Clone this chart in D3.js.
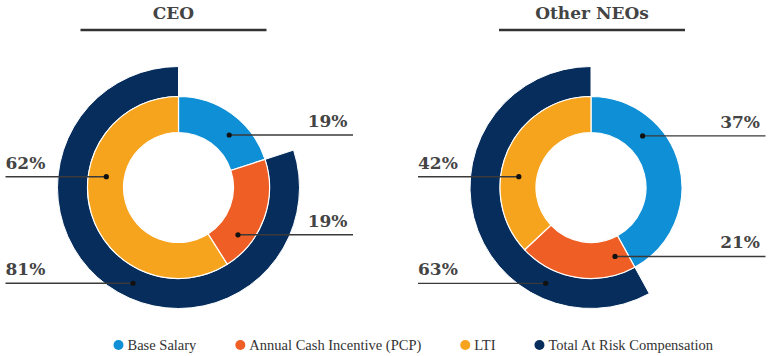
<!DOCTYPE html>
<html>
<head>
<meta charset="utf-8">
<script src="https://cdn.jsdelivr.net/npm/d3@7"></script>
<style>
  html, body { margin: 0; padding: 0; background: #ffffff; }
  svg { display: block; }
</style>
</head>
<body>
<div id="chart"></div>
<script>
// ---------------- data ----------------
const categories = ["Base Salary", "Annual Cash Incentive (PCP)", "LTI"];
const atRiskName = "Total At Risk Compensation";
const panelTitles = ["CEO", "Other NEOs"];
// shares of the pay mix as drawn in the rings (%)
const ceoMix = [20, 21, 59];
const ceoAtRisk = 80;
const neoMix = [42, 21, 37];
const neoAtRisk = 58;
// printed labels: base, incentive, LTI, at-risk
const ceoLabels = ["19%", "19%", "62%", "81%"];
const neoLabels = ["37%", "21%", "42%", "63%"];

// ---------------- style ----------------
const W = 770, H = 356;
const colors = ["#0f8fd5", "#ee5e25", "#f6a31e", "#062d5c"];
const serifBold = "'DejaVu Serif', Georgia, serif";
const serif = "'Liberation Serif', 'Times New Roman', serif";
const rHole = 55, rMid = 91, rOuter = 121;

const panels = [
  { title: panelTitles[0], mix: ceoMix, atRisk: ceoAtRisk, labels: ceoLabels,
    dotAngles: [44, 128.5, 278.5, 205.4], titleShift: -5 },
  { title: panelTitles[1], mix: neoMix, atRisk: neoAtRisk, labels: neoLabels,
    dotAngles: [45, 160.8, 278.5, 205.3], titleShift: 1 }
];

const svg = d3.select("#chart").append("svg")
  .attr("width", W).attr("height", H);

const xPanel = d3.scalePoint().domain(panelTitles).range([178.5, 591]);
const cy = 187.5;
const angle = d3.scaleLinear().domain([0, 100]).range([0, 2 * Math.PI]);
const color = d3.scaleOrdinal().domain([...categories, atRiskName]).range(colors);

const pie = d3.pie().sort(null).value(d => d)
  .startAngle(0).endAngle(2 * Math.PI);
const innerArc = d3.arc().innerRadius(rHole).outerRadius(rMid);
const outerArc = d3.arc().innerRadius(rMid).outerRadius(rOuter);

panels.forEach(p => {
  const cx = xPanel(p.title);
  const g = svg.append("g");

  // title + rule
  g.append("text")
    .attr("x", cx + p.titleShift).attr("y", 18.5)
    .attr("text-anchor", "middle")
    .attr("font-family", serifBold).attr("font-weight", "bold")
    .attr("font-size", 17).attr("fill", "#444")
    .text(p.title);
  g.append("line")
    .attr("x1", cx + p.titleShift - 93).attr("x2", cx + p.titleShift + 93)
    .attr("y1", 30).attr("y2", 30)
    .attr("stroke", "#333").attr("stroke-width", 2.5);

  const rings = g.append("g").attr("transform", `translate(${cx},${cy})`);

  // outer at-risk ring
  rings.append("path")
    .attr("d", outerArc({ startAngle: angle(100 - p.atRisk), endAngle: angle(100) }))
    .attr("fill", color(atRiskName))
    .attr("stroke", "#fff").attr("stroke-width", 1);

  // inner pay-mix donut
  rings.selectAll("path.slice")
    .data(pie(p.mix))
    .join("path")
    .attr("class", "slice")
    .attr("d", innerArc)
    .attr("fill", (d, i) => color(categories[i]))
    .attr("stroke", "#fff").attr("stroke-width", 1.2);

  // labels with leader lines
  p.labels.forEach((lab, i) => {
    const r = i === 3 ? (rMid + rOuter) / 2 : (rHole + rMid) / 2 + (i === 1 && p.title === "CEO" ? 3 : 0);
    const [dx, dy] = d3.pointRadial(p.dotAngles[i] * Math.PI / 180, r);
    const px = cx + dx, py = cy + dy;
    const right = i < 2;
    const lineEnd = right ? cx + 174.5 : cx - 173;
    g.append("line")
      .attr("x1", px).attr("x2", lineEnd)
      .attr("y1", py).attr("y2", py)
      .attr("stroke", "#3a3a3a").attr("stroke-width", 1.4);
    g.append("circle")
      .attr("cx", px).attr("cy", py).attr("r", 2.6)
      .attr("fill", "#111");
    g.append("text")
      .attr("x", right ? cx + 169 : lineEnd)
      .attr("y", py - 8)
      .attr("text-anchor", right ? "end" : "start")
      .attr("font-family", serifBold).attr("font-weight", "bold")
      .attr("font-size", 17).attr("fill", "#444")
      .text(lab);
  });
});

// ---------------- legend ----------------
const legendItems = [...categories, atRiskName];
const legend = svg.append("g");
const legendLeft = 118.5, legendRight = 713;
const items = legendItems.map(name => {
  const item = legend.append("g");
  item.append("circle").attr("cx", 0).attr("cy", 0).attr("r", 5)
    .attr("fill", color(name));
  const t = item.append("text").attr("x", 9).attr("y", 5)
    .attr("font-family", serif).attr("font-size", 14.5).attr("fill", "#333")
    .text(name);
  return { item, w: 9 + t.node().getComputedTextLength() };
});
const used = d3.sum(items, d => d.w);
const gap = (legendRight - legendLeft - used) / (items.length - 1);
let x = legendLeft;
items.forEach(d => {
  d.item.attr("transform", `translate(${x},345)`);
  x += d.w + gap;
});
</script>
</body>
</html>
